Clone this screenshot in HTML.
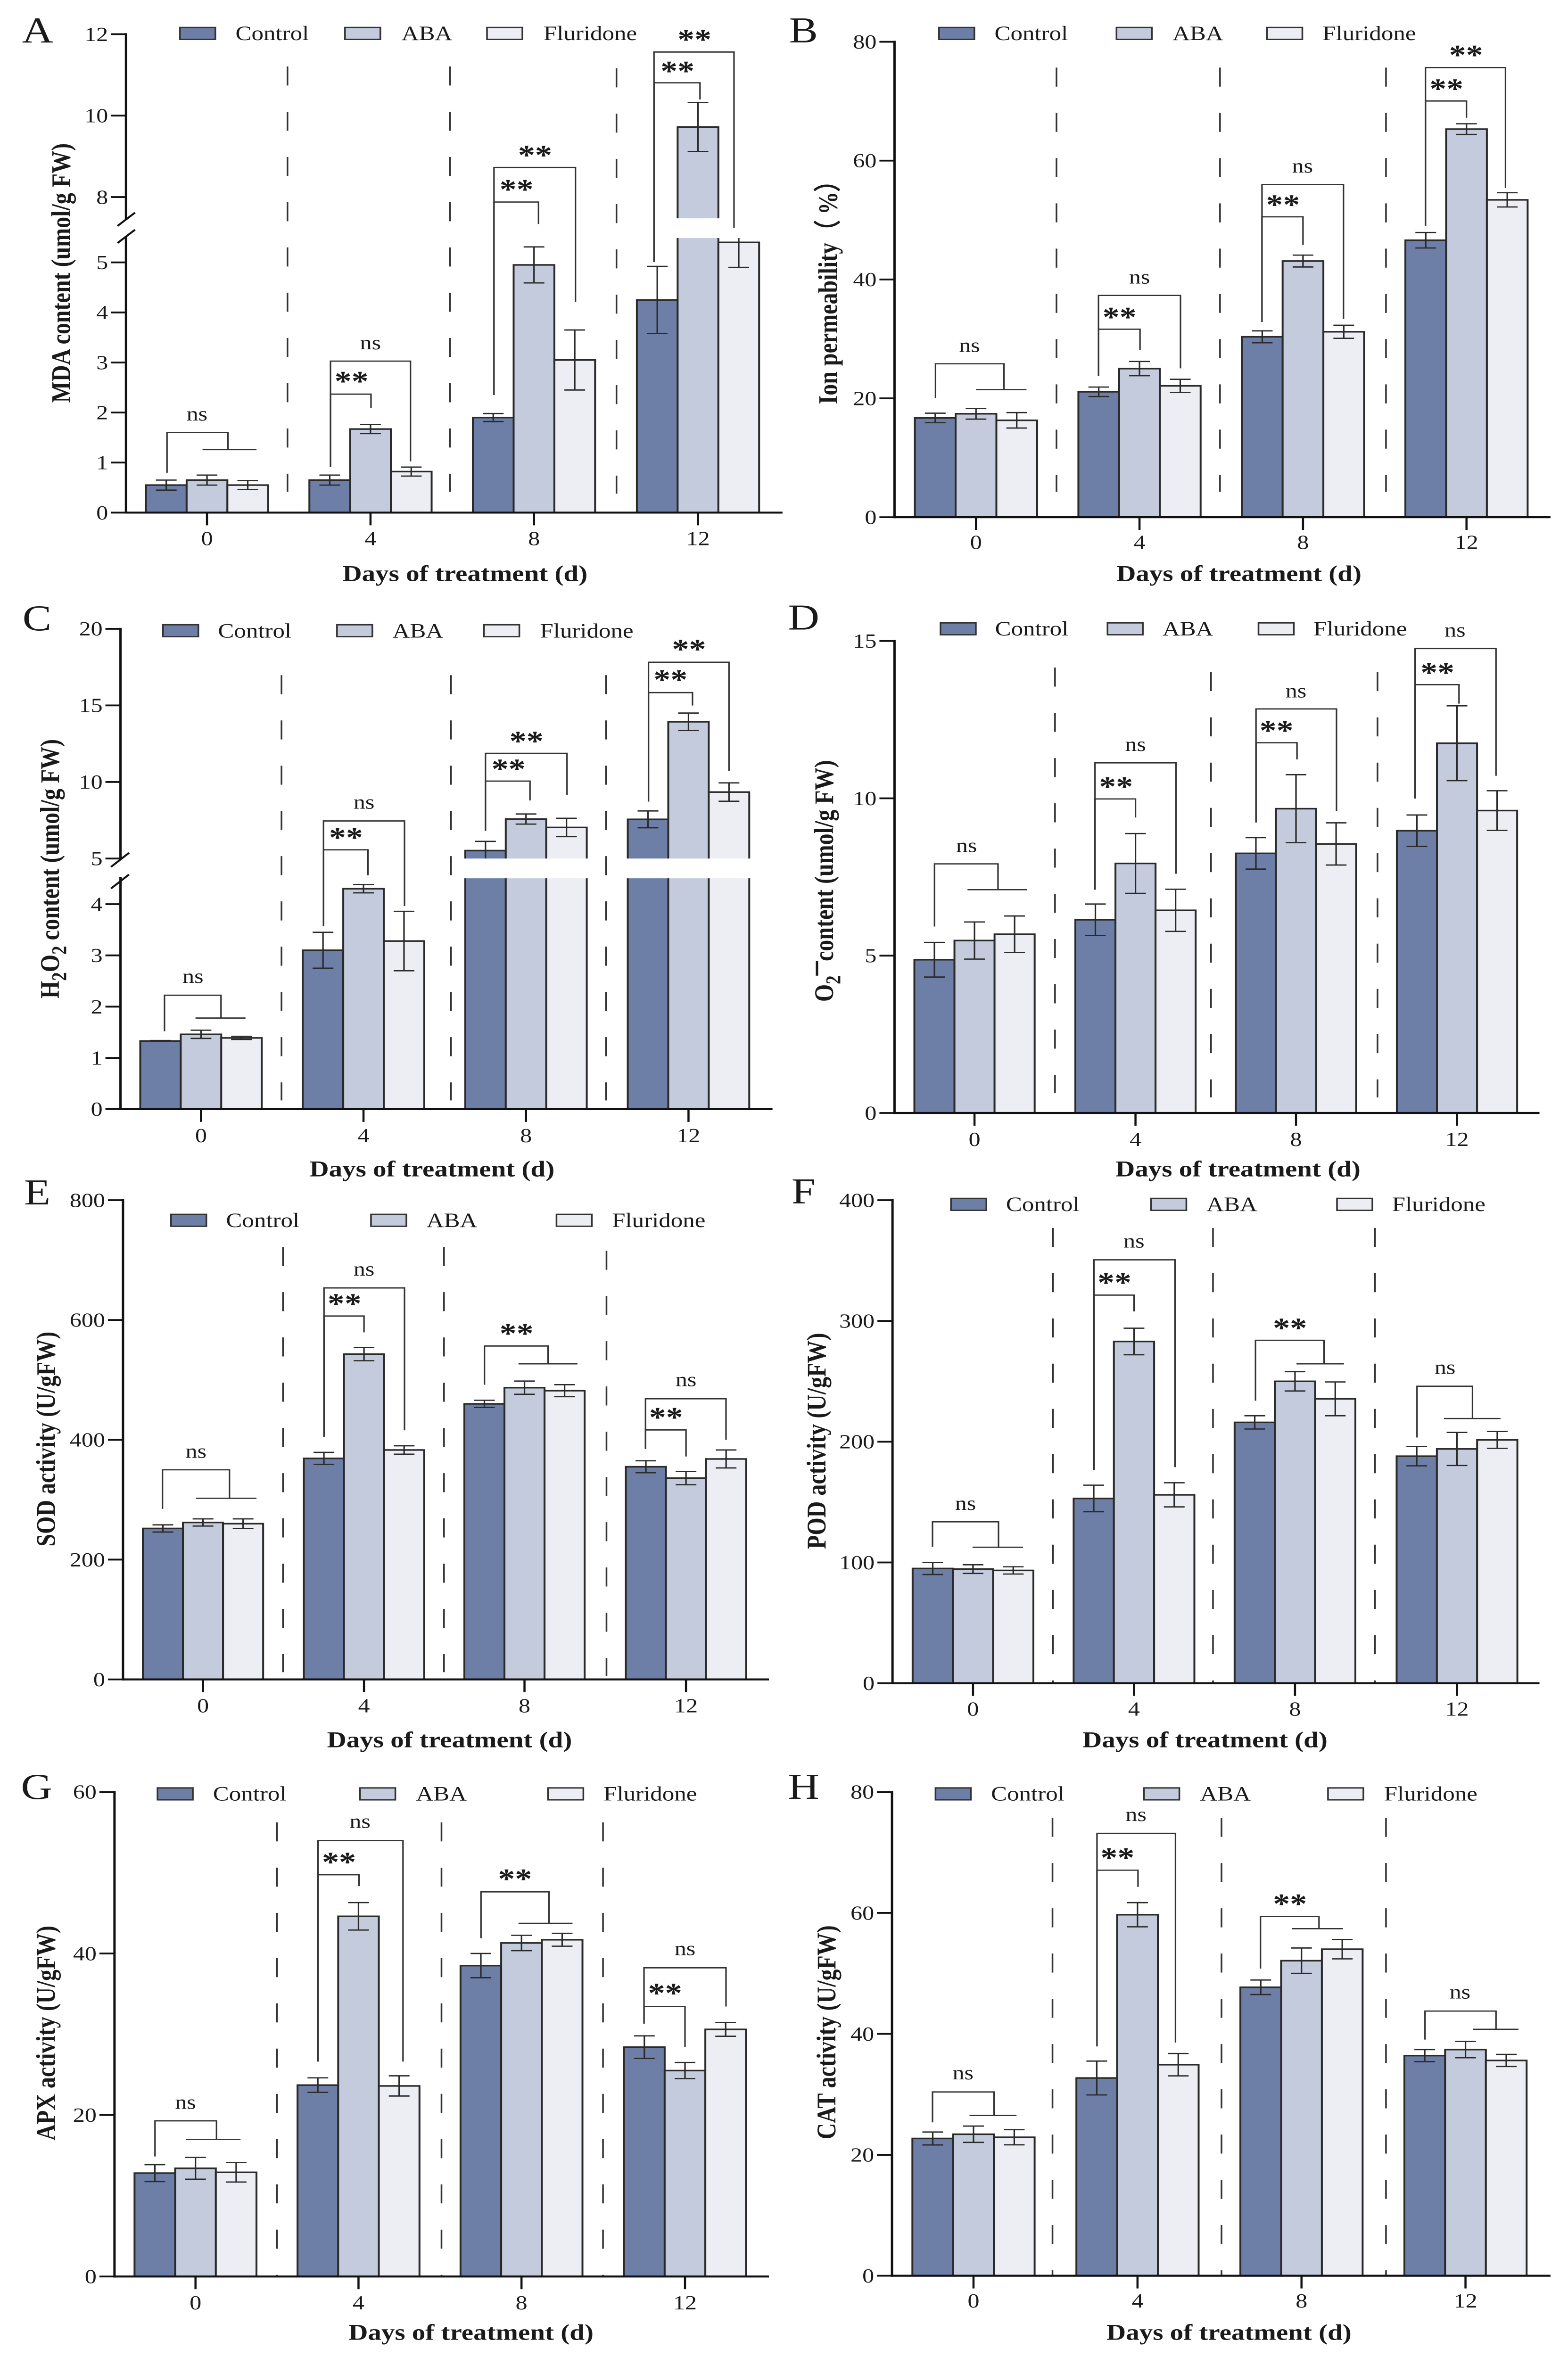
<!DOCTYPE html>
<html lang="en">
<head>
<meta charset="utf-8">
<title>Physiological responses to ABA and fluridone</title>
<style>
  html, body { margin: 0; padding: 0; background: #fff; width: 100%; height: 100%; overflow: hidden; }
  svg { display: block; overflow: hidden; width: 100vw; height: 100vh; }
  text { font-family: "Liberation Serif", "DejaVu Serif", serif; fill: #1a1a1a; }
</style>
</head>
<body>
<svg id="figure" xmlns="http://www.w3.org/2000/svg" viewBox="0 0 3326 5938" preserveAspectRatio="none"></svg>
<script>
const categories = ['0', '4', '8', '12'];
const seriesNames = ['Control', 'ABA', 'Fluridone'];

const mdaControl = [0.55, 0.65, 1.9, 4.25];
const mdaAba = [0.65, 1.67, 4.95, 9.72];
const mdaFluridone = [0.55, 0.82, 3.05, 5.4];
const mdaControlErr = [0.1, 0.1, 0.08, 0.67];
const mdaAbaErr = [0.1, 0.09, 0.36, 0.6];
const mdaFluridoneErr = [0.09, 0.09, 0.6, 0.5];
const mdaTicks = [0, 1, 2, 3, 4, 5, 8, 10, 12];

const ionControl = [16.7, 21.1, 30.35, 46.6];
const ionAba = [17.4, 25, 43.1, 65.3];
const ionFluridone = [16.3, 22.1, 31.2, 53.4];
const ionControlErr = [0.8, 0.8, 1, 1.3];
const ionAbaErr = [0.9, 1.2, 1, 0.9];
const ionFluridoneErr = [1.3, 1.1, 1.1, 1.2];
const ionTicks = [0, 20, 40, 60, 80];

const h2o2Control = [1.33, 3.1, 5.52, 7.56];
const h2o2Aba = [1.46, 4.3, 7.58, 13.93];
const h2o2Fluridone = [1.39, 3.28, 7.03, 9.34];
const h2o2ControlErr = [0.01, 0.35, 0.6, 0.55];
const h2o2AbaErr = [0.08, 0.08, 0.33, 0.57];
const h2o2FluridoneErr = [0.03, 0.58, 0.6, 0.6];
const h2o2Ticks = [0, 1, 2, 3, 4, 5, 10, 15, 20];

const o2Control = [4.87, 6.14, 8.25, 8.97];
const o2Aba = [5.48, 7.93, 9.67, 11.75];
const o2Fluridone = [5.68, 6.44, 8.55, 9.61];
const o2ControlErr = [0.55, 0.5, 0.5, 0.5];
const o2AbaErr = [0.59, 0.95, 1.08, 1.19];
const o2FluridoneErr = [0.58, 0.67, 0.67, 0.63];
const o2Ticks = [0, 5, 10, 15];

const sodControl = [252, 369, 460, 355];
const sodAba = [262, 543, 487, 336];
const sodFluridone = [260, 383, 482, 368];
const sodControlErr = [6, 10, 6, 10];
const sodAbaErr = [6, 11, 11, 11];
const sodFluridoneErr = [8, 7, 10, 15];
const sodTicks = [0, 200, 400, 600, 800];

const podControl = [95, 153, 216, 188];
const podAba = [94.5, 283, 250, 194];
const podFluridone = [93.4, 156, 235.5, 201.5];
const podControlErr = [5, 11, 5.5, 8];
const podAbaErr = [3.6, 11, 8, 13.7];
const podFluridoneErr = [3, 10, 14, 7];
const podTicks = [0, 100, 200, 300, 400];

const apxControl = [12.8, 23.7, 38.5, 28.4];
const apxAba = [13.4, 44.6, 41.3, 25.5];
const apxFluridone = [12.9, 23.6, 41.7, 30.6];
const apxControlErr = [1.05, 0.9, 1.5, 1.4];
const apxAbaErr = [1.35, 1.7, 0.95, 1];
const apxFluridoneErr = [1.2, 1.25, 0.8, 0.85];
const apxTicks = [0, 20, 40, 60];

const catControl = [22.7, 32.7, 47.7, 36.4];
const catAba = [23.4, 59.7, 52.1, 37.4];
const catFluridone = [22.9, 34.9, 54, 35.6];
const catControlErr = [1.07, 2.8, 1.2, 1];
const catAbaErr = [1.35, 2, 2.1, 1.35];
const catFluridoneErr = [1.25, 1.85, 1.6, 1];
const catTicks = [0, 20, 40, 60, 80];

const colors = ['#6d7fa6', '#c3cbdc', '#eceef3'];
const NS = 'http://www.w3.org/2000/svg';
const root = document.getElementById('figure');
const FX = 1663 / 1568;
const FY = 1500 / 1568;

/* Panel geometry is expressed in a 1568-unit grid per panel cell. */
const panels = [
  { id: 'a', letter: 'A', ox: 0, oy: 0, lx: 44, ly: 112, axisX: 252, endX: 1565, top: 90, xt: [414, 741, 1068, 1396], step: 81.5, xLabY: 1418, title: [930, 1510], yTitleX: 122, yTitleY: 719,
    yTitle: [['MDA content (umol/g FW)']],
    vals: [mdaControl, mdaAba, mdaFluridone], errs: [mdaControlErr, mdaAbaErr, mdaFluridoneErr], ticks: mdaTicks,
    segs: [{ v0: 0, v1: 5.486, p0: 1350, p1: 627 }, { v0: 7.478, v1: 12, p0: 575, p1: 90 }],
    band: [575, 627], slashes: [[235, 595, 270, 560], [235, 640, 270, 605]],
    legend: { y: 88, sw: [360, 690, 974], tx: [471, 803, 1087] },
    dashes: [[575, 175, 1295], [900, 175, 1295], [1233, 180, 1300]],
    brackets: [
      ['T', 334, 456, 1139, 1245, 1184, 405, 513, 'ns', 394, 1093],
      ['N', 661, 821, 951, 1230, 1215, 'ns', 741, 905], ['N', 661, 742, 1038, 1230, 1075, '**', 703, 995],
      ['N', 988, 1151, 441, 1040, 795, '**', 1070, 400], ['N', 988, 1077, 532, 1040, 590, '**', 1033, 490],
      ['N', 1308, 1468, 137, 690, 600, '**', 1389, 95], ['N', 1308, 1400, 218, 690, 262, '**', 1355, 178]
    ] },
  { id: 'b', letter: 'B', ox: 1663, oy: 0, lx: 10, ly: 112, axisX: 221, endX: 1533, top: 110, xt: [384, 711, 1038, 1365], step: 81.5, xLabY: 1428, title: [910, 1510], yTitleX: 88, yTitleY: 755,
    yTitle: [['Ion permeability（ %）']],
    vals: [ionControl, ionAba, ionFluridone], errs: [ionControlErr, ionAbaErr, ionFluridoneErr], ticks: ionTicks,
    segs: [{ v0: 0, v1: 80, p0: 1362, p1: 110 }],
    legend: { y: 88, sw: [310, 665, 966], tx: [421, 777, 1077] },
    dashes: [[545, 178, 1295], [872, 178, 1295], [1204, 178, 1295]],
    brackets: [
      ['T', 303, 440, 958, 1048, 1026, 384, 485, 'ns', 371, 912],
      ['N', 629, 793, 778, 990, 970, 'ns', 711, 732], ['N', 629, 712, 867, 990, 922, '**', 671, 826],
      ['N', 956, 1119, 486, 848, 840, 'ns', 1037, 440], ['N', 956, 1038, 571, 848, 645, '**', 998, 530],
      ['N', 1283, 1443, 178, 595, 495, '**', 1364, 136], ['N', 1283, 1365, 266, 595, 310, '**', 1325, 225]
    ] },
  { id: 'c', letter: 'C', ox: 0, oy: 1500, lx: 45, ly: 92, axisX: 241, endX: 1545, top: 88, xt: [402, 727, 1052, 1377], step: 81, xLabY: 1422, title: [864, 1510], yTitleX: 100, yTitleY: 720,
    yTitle: [['H'], ['2', 1], ['O'], ['2', 1], [' content (umol/g FW)']],
    vals: [h2o2Control, h2o2Aba, h2o2Fluridone], errs: [h2o2ControlErr, h2o2AbaErr, h2o2FluridoneErr], ticks: h2o2Ticks,
    segs: [{ v0: 0, v1: 4.504, p0: 1353, p1: 745 }, { v0: 5, v1: 20, p0: 693, p1: 88 }],
    band: [693, 745], slashes: [[222, 715, 258, 678], [222, 772, 258, 735]],
    legend: { y: 93, sw: [326, 674, 968], tx: [436, 785, 1080] },
    dashes: [[563, 210, 1330], [902, 210, 1330], [1212, 210, 1330]],
    brackets: [
      ['T', 329, 442, 1053, 1148, 1113, 391, 491, 'ns', 386, 1006],
      ['N', 647, 809, 594, 870, 818, 'ns', 728, 547], ['N', 647, 736, 670, 870, 737, '**', 692, 629],
      ['N', 971, 1134, 416, 620, 525, '**', 1053, 375], ['N', 971, 1060, 489, 620, 540, '**', 1017, 448],
      ['N', 1297, 1458, 176, 543, 462, '**', 1378, 133], ['N', 1297, 1385, 256, 543, 290, '**', 1341, 213]
    ] },
  { id: 'd', letter: 'D', ox: 1663, oy: 1500, lx: 8, ly: 90, axisX: 221, endX: 1511, top: 120, xt: [381, 703, 1024, 1346], step: 80.2, xLabY: 1432, title: [908, 1510], yTitleX: 80, yTitleY: 752,
    yTitle: [['O'], ['2', 1], ['–', 2], ['content (umol/g FW)']],
    vals: [o2Control, o2Aba, o2Fluridone], errs: [o2ControlErr, o2AbaErr, o2FluridoneErr], ticks: o2Ticks,
    segs: [{ v0: 0, v1: 15, p0: 1363, p1: 120 }],
    legend: { y: 88, sw: [313, 647, 949], tx: [422, 757, 1059] },
    dashes: [[542, 190, 1310], [854, 202, 1322], [1187, 202, 1322]],
    brackets: [
      ['T', 301, 428, 707, 872, 775, 367, 486, 'ns', 365, 661],
      ['N', 622, 784, 441, 775, 733, 'ns', 703, 395], ['N', 622, 703, 536, 775, 585, '**', 664, 495],
      ['N', 944, 1105, 299, 598, 568, 'ns', 1024, 254], ['N', 944, 1026, 388, 598, 432, '**', 985, 347],
      ['N', 1262, 1424, 140, 535, 475, 'ns', 1342, 94], ['N', 1262, 1350, 235, 535, 285, '**', 1307, 194]
    ] },
  { id: 'e', letter: 'E', ox: 0, oy: 2950, lx: 48, ly: 88, axisX: 246, endX: 1538, top: 77, xt: [406, 728, 1049, 1372], step: 80.2, xLabY: 1408, title: [899, 1498], yTitleX: 92, yTitleY: 706,
    yTitle: [['SOD activity (U/gFW)']],
    vals: [sodControl, sodAba, sodFluridone], errs: [sodControlErr, sodAbaErr, sodFluridoneErr], ticks: sodTicks,
    segs: [{ v0: 0, v1: 800, p0: 1339, p1: 77 }],
    legend: { y: 130, sw: [342, 742, 1113], tx: [452, 853, 1224] },
    dashes: [[566, 200, 1320], [888, 200, 1320], [1213, 210, 1330]],
    brackets: [
      ['T', 325, 459, 787, 890, 862, 392, 513, 'ns', 392, 741],
      ['N', 648, 809, 308, 700, 683, 'ns', 728, 261], ['N', 648, 728, 382, 700, 425, '**', 689, 340],
      ['T', 969, 1096, 461, 563, 508, 1037, 1155, '**', 1033, 419],
      ['N', 1291, 1452, 600, 732, 708, 'ns', 1372, 552], ['N', 1291, 1372, 682, 732, 752, '**', 1332, 640]
    ] },
  { id: 'f', letter: 'F', ox: 1663, oy: 2950, lx: 15, ly: 85, axisX: 217, endX: 1511, top: 77, xt: [378, 700, 1022, 1346], step: 80.5, xLabY: 1417, title: [842, 1498], yTitleX: 65, yTitleY: 711,
    yTitle: [['POD activity (U/gFW)']],
    vals: [podControl, podAba, podFluridone], errs: [podControlErr, podAbaErr, podFluridoneErr], ticks: podTicks,
    segs: [{ v0: 0, v1: 400, p0: 1349, p1: 77 }],
    legend: { y: 88, sw: [334, 734, 1106], tx: [444, 845, 1216] },
    dashes: [[538, 150, 1350], [858, 150, 1350], [1182, 150, 1350]],
    brackets: [
      ['T', 297, 429, 924, 990, 991, 377, 478, 'ns', 363, 878],
      ['N', 620, 782, 234, 788, 780, 'ns', 700, 187], ['N', 620, 700, 327, 788, 370, '**', 661, 285],
      ['T', 943, 1080, 446, 605, 508, 1025, 1120, '**', 1012, 405],
      ['T', 1266, 1377, 567, 702, 652, 1320, 1433, 'ns', 1322, 520]
    ] },
  { id: 'g', letter: 'G', ox: 0, oy: 4438, lx: 42, ly: 98, axisX: 229, endX: 1538, top: 80, xt: [391, 717, 1043, 1370], step: 81.3, xLabY: 1425, title: [942, 1503], yTitleX: 92, yTitleY: 715,
    yTitle: [['APX activity (U/gFW)']],
    vals: [apxControl, apxAba, apxFluridone], errs: [apxControlErr, apxAbaErr, apxFluridoneErr], ticks: apxTicks,
    segs: [{ v0: 0, v1: 60, p0: 1356, p1: 80 }],
    legend: { y: 85, sw: [315, 720, 1096], tx: [426, 832, 1207] },
    dashes: [[554, 160, 1355], [883, 160, 1355], [1206, 160, 1355]],
    brackets: [
      ['T', 310, 433, 946, 1040, 995, 372, 481, 'ns', 371, 900],
      ['N', 636, 806, 208, 790, 790, 'ns', 720, 160], ['N', 636, 718, 298, 790, 328, '**', 678, 256],
      ['T', 962, 1098, 343, 465, 426, 1037, 1145, '**', 1030, 300],
      ['N', 1288, 1452, 543, 690, 645, 'ns', 1370, 495], ['N', 1288, 1370, 645, 690, 752, '**', 1330, 601]
    ] },
  { id: 'h', letter: 'H', ox: 1663, oy: 4438, lx: 8, ly: 98, axisX: 216, endX: 1533, top: 80, xt: [379, 707, 1035, 1363], step: 81.5, xLabY: 1420, title: [890, 1503], yTitleX: 85, yTitleY: 713,
    yTitle: [['CAT activity (U/gFW)']],
    vals: [catControl, catAba, catFluridone], errs: [catControlErr, catAbaErr, catFluridoneErr], ticks: catTicks,
    segs: [{ v0: 0, v1: 80, p0: 1354, p1: 80 }],
    legend: { y: 85, sw: [303, 720, 1088], tx: [414, 832, 1200] },
    dashes: [[537, 148, 1354], [875, 148, 1354], [1204, 148, 1354]],
    brackets: [
      ['T', 297, 420, 870, 950, 932, 371, 465, 'ns', 358, 822],
      ['N', 626, 783, 189, 750, 740, 'ns', 704, 142], ['N', 626, 708, 286, 750, 330, '**', 667, 244],
      ['T', 953, 1070, 408, 545, 440, 1016, 1118, '**', 1012, 366],
      ['T', 1282, 1424, 657, 732, 705, 1378, 1469, 'ns', 1352, 609]
    ] }
];

function mk(tag, attrs, parent) {
  const el = document.createElementNS(NS, tag);
  for (const k in attrs) el.setAttribute(k, attrs[k]);
  parent.appendChild(el);
  return el;
}

function drawLine(parent, x1, y1, x2, y2, w, col) {
  return mk('line', { x1: x1, y1: y1, x2: x2, y2: y2, stroke: col || '#1a1a1a', 'stroke-width': w }, parent);
}

panels.forEach(function (p) {
  const X = function (z) { return p.ox + z * FX; };
  const Y = function (z) { return p.oy + z * FY; };

  /* y axis function: piecewise-linear across an optional break */
  const yOf = function (v) {
    const segs = p.segs;
    if (segs.length === 1 || v <= segs[0].v1) {
      const s = segs[0];
      return Y(s.p0 + (v - s.v0) * (s.p1 - s.p0) / (s.v1 - s.v0));
    }
    const hi = segs[1];
    if (v >= hi.v0) return Y(hi.p0 + (v - hi.v0) * (hi.p1 - hi.p0) / (hi.v1 - hi.v0));
    const lo = segs[0];
    return Y(lo.p1 + (v - lo.v1) * (hi.p0 - lo.p1) / (hi.v0 - lo.v1));
  };
  /* x axis function: group index + series index */
  const xOf = function (g, s) { return X(p.xt[g] + (s - 1) * p.step); };
  const base = yOf(0);
  const barW = p.step * FX;

  const g = mk('g', {}, root);
  
  

  const letter = mk('text', { x: X(p.lx), y: Y(p.ly), 'font-size': 92 }, g);
  letter.textContent = p.letter;
  
  

  /* bars */
  p.vals.forEach(function (arr, s) {
    arr.forEach(function (v, i) {
      const top = yOf(v);
      const bar = mk('rect', { x: xOf(i, s) - barW / 2, y: top, width: barW, height: base - top, fill: colors[s], stroke: '#2a2a2a', 'stroke-width': 4 }, g);
      
      
    });
  });

  /* error bars */
  p.errs.forEach(function (arr, s) {
    arr.forEach(function (e, i) {
      const cx = xOf(i, s);
      const v = p.vals[s][i];
      const eg = mk('g', { stroke: '#2a2a2a', 'stroke-width': 3.2, fill: 'none' }, g);
      
      
      mk('line', { x1: cx, x2: cx, y1: yOf(v + e), y2: yOf(v - e) }, eg);
      mk('line', { x1: cx - 22, x2: cx + 22, y1: yOf(v + e), y2: yOf(v + e) }, eg);
      mk('line', { x1: cx - 22, x2: cx + 22, y1: yOf(v - e), y2: yOf(v - e) }, eg);
    });
  });

  /* axis break band */
  if (p.band) {
    const band = mk('rect', { x: X(p.axisX) + 4, y: Y(p.band[0]), width: (p.endX - p.axisX) * FX, height: (p.band[1] - p.band[0]) * FY, fill: '#fff' }, g);
    
    
  }

  /* dashed group separators */
  p.dashes.forEach(function (d, i) {
    const sep = mk('line', { x1: X(d[0]), x2: X(d[0]), y1: Y(d[1]), y2: Y(d[2]), stroke: '#333', 'stroke-width': 3.5, 'stroke-dasharray': '48 66' }, g);
    
    
  });

  /* y axis */
  const yAxis = mk('g', {}, g);
  
  
  p.segs.forEach(function (s) {
    drawLine(yAxis, X(p.axisX), Y(s.p0) + 2.5, X(p.axisX), Y(s.p1) - 2.5, 5, '#111');
  });
  (p.slashes || []).forEach(function (q) {
    drawLine(yAxis, X(q[0]), Y(q[1]), X(q[2]), Y(q[3]), 4.5, '#111');
  });
  p.ticks.forEach(function (t) {
    const y = yOf(t);
    drawLine(yAxis, X(p.axisX) - 32, y, X(p.axisX), y, 4.5, '#111');
    const lab = mk('text', { x: X(p.axisX) - 38, y: y + 17, 'font-size': 50, 'text-anchor': 'end' }, yAxis);
    lab.textContent = String(t);
    
    
  });

  /* x axis */
  const xAxis = mk('g', {}, g);
  
  
  drawLine(xAxis, X(p.axisX) - 2.5, base, X(p.endX), base, 5, '#111');
  categories.forEach(function (c, i) {
    const x = xOf(i, 1);
    drawLine(xAxis, x, base, x, base + 32, 4.5, '#111');
    const lab = mk('text', { x: x, y: Y(p.xLabY) + 17, 'font-size': 50, 'text-anchor': 'middle' }, xAxis);
    lab.textContent = c;
    
    
  });

  const xTitle = mk('text', { x: X(p.title[0]), y: Y(p.title[1]) + 19, 'font-size': 57, 'font-weight': 'bold', 'text-anchor': 'middle' }, g);
  xTitle.textContent = 'Days of treatment (d)';
  
  

  const tx = X(p.yTitleX) + 19;
  const ty = Y(p.yTitleY);
  const yTitle = mk('text', { x: tx, y: ty, 'font-size': 57, 'font-weight': 'bold', 'text-anchor': 'middle', transform: 'rotate(-90 ' + tx + ' ' + ty + ')' }, g);
  
  
  let pendingDy = 0;
  p.yTitle.forEach(function (part) {
    const ts = mk('tspan', {}, yTitle);
    ts.textContent = part[0];
    let dy = pendingDy;
    pendingDy = 0;
    if (part[1] === 1) { ts.setAttribute('font-size', 44); dy += 15; pendingDy = -15; }
    if (part[1] === 2) { ts.setAttribute('font-size', 72); dy += -17; pendingDy = 17; }
    if (dy) ts.setAttribute('dy', dy);
  });

  /* legend */
  seriesNames.forEach(function (name, i) {
    const entry = mk('g', {}, g);
    
    
    mk('rect', { x: X(p.legend.sw[i]), y: Y(p.legend.y) - 15, width: 75, height: 30, fill: colors[i], stroke: '#333', 'stroke-width': 3.5 }, entry);
    const t = mk('text', { x: X(p.legend.tx[i]), y: Y(p.legend.y) + 17, 'font-size': 51 }, entry);
    t.textContent = name;
  });

  /* significance brackets */
  function label(str, zx, zy) {
    const star = str === '**';
    const t = mk('text', { x: X(zx), y: Y(zy) + (star ? 32 : 14), 'font-size': star ? 72 : 50, 'font-weight': star ? 'bold' : 'normal', 'text-anchor': 'middle' }, g);
    t.textContent = star ? '**' : str;
    
    
  }
  p.brackets.forEach(function (b) {
    const bk = mk('path', { fill: 'none', stroke: '#333', 'stroke-width': 3.2 }, g);
    
    
    if (b[0] === 'T') {
      bk.setAttribute('d', 'M' + X(b[1]) + ' ' + Y(b[4]) + 'V' + Y(b[3]) + 'H' + X(b[2]) + 'V' + Y(b[5]) + 'M' + X(b[6]) + ' ' + Y(b[5]) + 'H' + X(b[7]));
      label(b[8], b[9], b[10]);
    } else {
      bk.setAttribute('d', 'M' + X(b[1]) + ' ' + Y(b[4]) + 'V' + Y(b[3]) + 'H' + X(b[2]) + 'V' + Y(b[5]));
      label(b[6], b[7], b[8]);
    }
  });
});
</script>
</body>
</html>
